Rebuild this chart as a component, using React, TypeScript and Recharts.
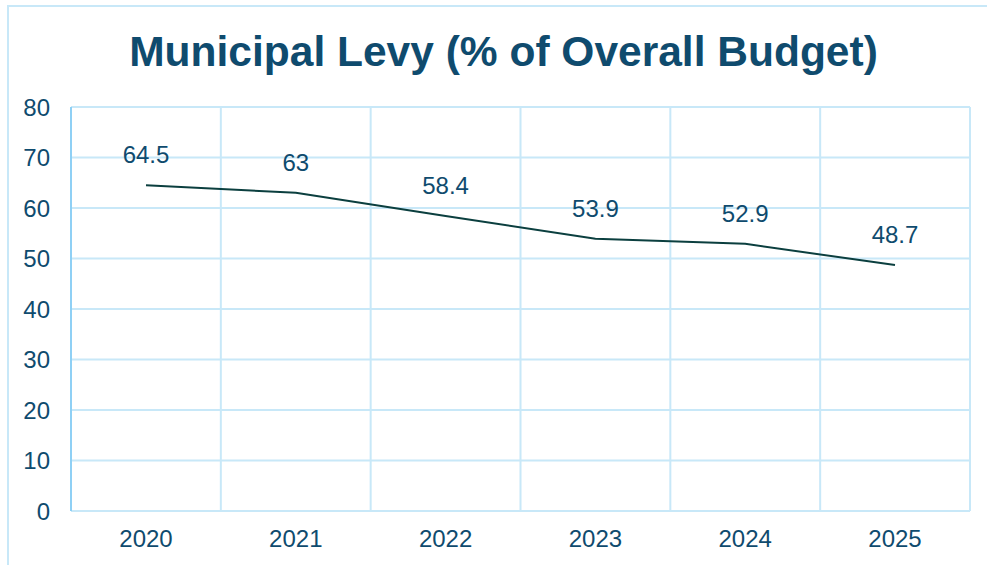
import React from 'react'
import { LineChart, Line, XAxis, YAxis, CartesianGrid, LabelList } from 'recharts'

// Data
const years = ['2020', '2021', '2022', '2023', '2024', '2025']
const levyShare = [64.5, 63, 58.4, 53.9, 52.9, 48.7]
const yTicks = [0, 10, 20, 30, 40, 50, 60, 70, 80]

const data = years.map((year, i) => ({ year, value: levyShare[i] }))

const TEXT = '#0f4b6e'
const GRID = '#c8e8f8'
const FONT = '"Liberation Sans", Arial, sans-serif'

// vertical lines sit on category boundaries, not centres
const boundaryLines = ({ offset }: any) =>
  Array.from({ length: years.length + 1 }, (_, i) => offset.left + (i * offset.width) / years.length)

export default function App() {
  return (
    <div style={{ position: 'absolute', left: 0, top: 0, width: 987, height: 565, background: '#fff', overflow: 'hidden', fontFamily: FONT }}>
      <div
        style={{
          position: 'absolute',
          left: 7,
          top: 5,
          width: 990,
          height: 580,
          border: `2px solid ${GRID}`,
          boxSizing: 'border-box'
        }}
      />
      <div
        style={{
          position: 'absolute',
          left: 0,
          top: 23,
          width: 1007,
          textAlign: 'center',
          fontSize: 42.5,
          fontWeight: 'bold',
          color: TEXT,
          lineHeight: '58px'
        }}
      >
        Municipal Levy (% of Overall Budget)
      </div>
      <div style={{ position: 'absolute', left: 0, top: 0 }}>
        <LineChart width={987} height={565} data={data} margin={{ top: 107, right: 17, left: 0, bottom: 0 }}>
          <CartesianGrid stroke={GRID} strokeWidth={2} verticalCoordinatesGenerator={boundaryLines} />
          <XAxis
            dataKey="year"
            height={54}
            padding={{ left: 75, right: 75 }}
            axisLine={{ stroke: GRID, strokeWidth: 2 }}
            tickLine={false}
            tickMargin={13}
            tick={{ fill: TEXT, fontSize: 24, fontFamily: FONT }}
          />
          <YAxis
            width={71}
            domain={[0, 80]}
            ticks={yTicks}
            axisLine={{ stroke: '#8fd0f5', strokeWidth: 2 }}
            tickLine={false}
            tickMargin={15}
            tick={{ fill: TEXT, fontSize: 24, fontFamily: FONT }}
          />
          <Line
            dataKey="value"
            type="linear"
            stroke="#0b3f3f"
            strokeWidth={2}
            dot={false}
            isAnimationActive={false}
          >
            <LabelList dataKey="value" position="top" offset={22} fill={TEXT} fontSize={24} fontFamily={FONT} />
          </Line>
        </LineChart>
      </div>
    </div>
  )
}
